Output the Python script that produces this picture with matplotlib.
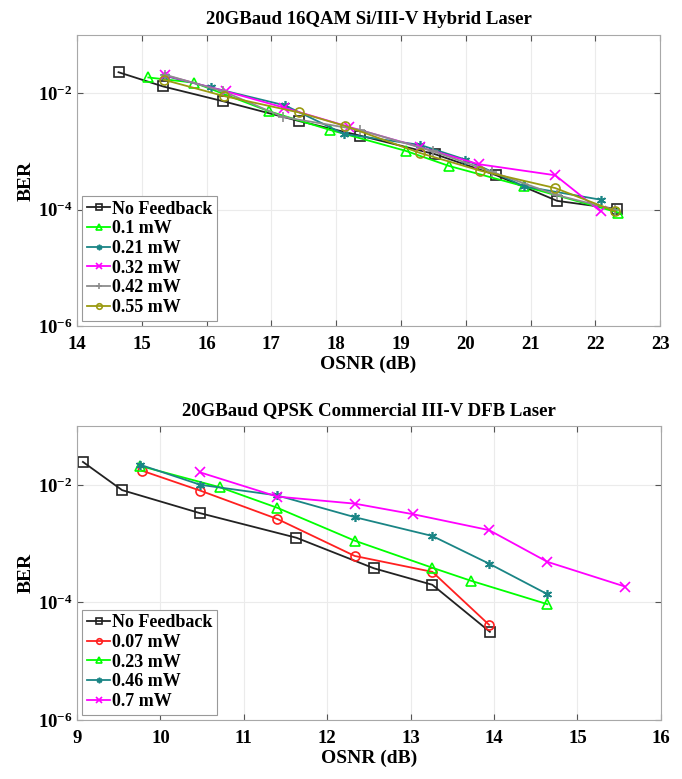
import numpy as np
import matplotlib
matplotlib.use("Agg")
import matplotlib.pyplot as plt

plt.rcParams["font.family"] = ["Liberation Serif", "DejaVu Serif"]
plt.rcParams["font.weight"] = "bold"
plt.rcParams["mathtext.fontset"] = "custom"
plt.rcParams["mathtext.rm"] = "Liberation Serif:bold"
plt.rcParams["mathtext.it"] = "Liberation Serif:bold"
plt.rcParams["mathtext.bf"] = "Liberation Serif:bold"

# ---- top panel: 20GBaud 16QAM Si/III-V hybrid laser (OSNR dB, log10 BER)
top_labels = ["No Feedback", "0.1 mW", "0.21 mW", "0.32 mW", "0.42 mW", "0.55 mW"]
top_osnr = [
    [14.64, 15.33, 16.26, 17.43, 18.37, 19.53, 20.47, 21.41, 22.34],
    [15.10, 15.81, 16.96, 17.90, 19.07, 19.74, 20.90, 22.35],
    [15.35, 16.06, 17.21, 18.12, 19.30, 19.99, 20.90, 22.08],
    [15.35, 16.30, 17.20, 18.20, 19.30, 20.20, 21.38, 22.08],
    [15.35, 16.26, 17.18, 18.36, 19.50, 20.40, 21.40, 22.30],
    [15.34, 16.27, 17.42, 18.13, 19.30, 20.22, 21.38, 22.31],
]
top_logber = [
    [-1.64, -1.885, -2.14, -2.48, -2.73, -3.05, -3.41, -3.85, -3.99],
    [-1.73, -1.82, -2.31, -2.63, -2.99, -3.25, -3.60, -4.05],
    [-1.70, -1.90, -2.21, -2.70, -2.89, -3.14, -3.60, -3.83],
    [-1.69, -1.97, -2.25, -2.58, -2.93, -3.22, -3.41, -4.03],
    [-1.68, -1.97, -2.41, -2.63, -3.00, -3.35, -3.75, -4.00],
    [-1.77, -2.05, -2.33, -2.56, -3.03, -3.33, -3.63, -4.03],
]
top_colors = ["#222222", "#00ff00", "#1a8585", "#ff00ff", "#8c8c8c", "#9a9a10"]
top_markers = ["s", "^", (6, 2, 0), "x", "+", "o"]

# ---- bottom panel: 20GBaud QPSK commercial III-V DFB laser
bot_labels = ["No Feedback", "0.07 mW", "0.23 mW", "0.46 mW", "0.7 mW"]
bot_osnr = [
    [9.07, 9.54, 10.47, 11.63, 12.56, 13.26, 13.95],
    [9.78, 10.48, 11.40, 12.33, 13.26, 13.94],
    [9.76, 10.71, 11.40, 12.33, 13.26, 13.72, 14.64],
    [9.76, 10.48, 11.40, 12.33, 13.26, 13.94, 14.64],
    [10.48, 11.40, 12.33, 13.03, 13.94, 14.64, 15.57],
]
bot_logber = [
    [-1.61, -2.09, -2.48, -2.90, -3.42, -3.70, -4.50],
    [-1.76, -2.10, -2.58, -3.21, -3.48, -4.38],
    [-1.68, -2.04, -2.39, -2.95, -3.41, -3.63, -4.03],
    [-1.66, -2.00, -2.18, -2.55, -2.87, -3.34, -3.86],
    [-1.79, -2.20, -2.32, -2.50, -2.77, -3.31, -3.73],
]
bot_colors = ["#222222", "#ff2020", "#00ff00", "#1a8585", "#ff00ff"]
bot_markers = ["s", "o", "^", (6, 2, 0), "x"]


def draw_panel(ax, osnr, logber, labels, colors, markers, title, xlim):
    for x, y, lab, c, m in zip(osnr, logber, labels, colors, markers):
        ax.semilogy(x, 10.0 ** np.array(y), color=c, marker=m, label=lab,
                    lw=1.3, ms=6.5, mfc="none", mec=c, mew=1.2)
    ax.set_xlim(*xlim)
    ax.set_ylim(1e-6, 1e-1)
    ax.set_yticks([1e-6, 1e-4, 1e-2])
    ax.set_xticks(np.arange(xlim[0], xlim[1] + 1))
    ax.minorticks_off()
    ax.grid(True, color="#ebebeb", lw=0.8)
    ax.tick_params(direction="in", top=True, right=True, labelsize=13.5,
                   color="#555555", length=4)
    ax.tick_params(axis="x", pad=7)
    for s in ax.spines.values():
        s.set_color("#a8a8a8")
    ax.set_title(title, fontsize=13.5, fontweight="bold", pad=8)
    ax.set_xlabel("OSNR (dB)", fontsize=14, fontweight="bold", labelpad=2)
    ax.set_ylabel("BER", fontsize=14, fontweight="bold", labelpad=2)
    leg = ax.legend(loc="lower left", handlelength=1.3,
                    handletextpad=0.1, labelspacing=0.15, borderpad=0.25,
                    borderaxespad=0.3, fancybox=False, framealpha=1,
                    prop={"weight": "bold", "size": 13})
    leg.get_frame().set_edgecolor("#999999")
    leg.get_frame().set_linewidth(0.8)
    for lh in leg.legend_handles:
        lh.set_markersize(4)


fig = plt.figure(figsize=(6.82, 7.79), dpi=100)
ax1 = fig.add_axes([0.113, 0.5815, 0.855, 0.3736])
ax2 = fig.add_axes([0.113, 0.0757, 0.856, 0.3774])

draw_panel(ax1, top_osnr, top_logber, top_labels, top_colors, top_markers,
           "20GBaud 16QAM Si/III-V Hybrid Laser", (14, 23))
draw_panel(ax2, bot_osnr, bot_logber, bot_labels, bot_colors, bot_markers,
           "20GBaud QPSK Commercial III-V DFB Laser", (9, 16))

fig.savefig("out.png", dpi=100, facecolor="white")
